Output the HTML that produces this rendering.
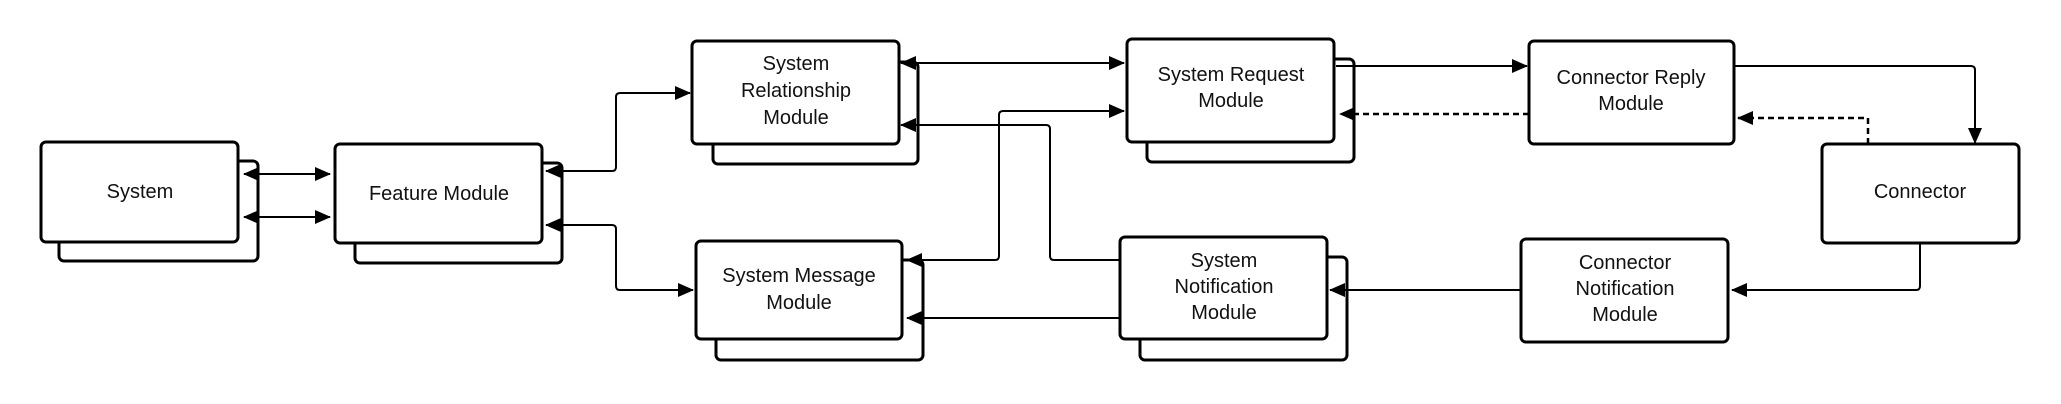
<!DOCTYPE html>
<html><head><meta charset="utf-8"><style>
html,body{margin:0;padding:0;background:#fff;}
svg{display:block;}
text{font-family:"Liberation Sans",Arial,sans-serif;font-size:20px;fill:#111;text-anchor:middle;}
.b{fill:#fff;stroke:#000;stroke-width:3;}
.l{fill:none;stroke:#000;stroke-width:2;stroke-linejoin:round;}
.d{fill:none;stroke:#000;stroke-width:2.5;stroke-dasharray:6,4;}
</style></head><body>
<svg width="2061" height="404" viewBox="0 0 2061 404" xmlns="http://www.w3.org/2000/svg">
<defs>
<marker id="a" markerWidth="16" markerHeight="14" refX="15" refY="7" orient="auto" markerUnits="userSpaceOnUse">
<path d="M0,0 L16,7 L0,14 Z" fill="#000"/></marker>
<marker id="s" markerWidth="16" markerHeight="14" refX="1" refY="7" orient="auto" markerUnits="userSpaceOnUse">
<path d="M16,0 L0,7 L16,14 Z" fill="#000"/></marker>
</defs>
<!-- boxes with shadows -->
<rect class="b" x="59" y="161" width="199" height="100" rx="5"/>
<rect class="b" x="41" y="142" width="197" height="100" rx="5"/>
<rect class="b" x="355" y="163" width="207" height="100" rx="5"/>
<rect class="b" x="335" y="144" width="207" height="99" rx="5"/>
<rect class="b" x="713" y="62" width="205" height="102" rx="5"/>
<rect class="b" x="692" y="41" width="207" height="103" rx="5"/>
<rect class="b" x="716" y="260" width="207" height="100" rx="5"/>
<rect class="b" x="696" y="241" width="206" height="98" rx="5"/>
<rect class="b" x="1147" y="59" width="207" height="103" rx="5"/>
<rect class="b" x="1127" y="39" width="207" height="103" rx="5"/>
<rect class="b" x="1529" y="41" width="205" height="103" rx="5"/>
<rect class="b" x="1822" y="144" width="197" height="99" rx="5"/>
<rect class="b" x="1140" y="257" width="207" height="103" rx="5"/>
<rect class="b" x="1120" y="237" width="207" height="102" rx="5"/>
<rect class="b" x="1521" y="239" width="207" height="103" rx="5"/>
<!-- connectors -->
<path class="l" d="M244,174 L330,174" marker-start="url(#s)" marker-end="url(#a)"/>
<path class="l" d="M244,217 L330,217" marker-start="url(#s)" marker-end="url(#a)"/>
<path class="l" d="M546,171 L612,171 Q616,171 616,167 L616,97 Q616,93 620,93 L690,93" marker-start="url(#s)" marker-end="url(#a)"/>
<path class="l" d="M546,225 L612,225 Q616,225 616,229 L616,286 Q616,290 620,290 L693,290" marker-start="url(#s)" marker-end="url(#a)"/>
<path class="l" d="M901,63 L1124,63" marker-start="url(#s)" marker-end="url(#a)"/>
<path class="l" d="M1120,260 L1054,260 Q1050,260 1050,256 L1050,129 Q1050,125 1046,125 L901,125" marker-end="url(#a)"/>
<path class="l" d="M907,260 L995,260 Q999,260 999,256 L999,115 Q999,111 1003,111 L1124,111" marker-start="url(#s)" marker-end="url(#a)"/>
<path class="l" d="M1120,318 L907,318" marker-end="url(#a)"/>
<path class="l" d="M1336,66 L1527,66" marker-end="url(#a)"/>
<path class="d" d="M1529,114 L1340,114" marker-end="url(#a)"/>
<path class="l" d="M1734,66 L1971,66 Q1975,66 1975,70 L1975,143" marker-end="url(#a)"/>
<path class="d" d="M1868,144 L1868,118 L1738,118" marker-end="url(#a)"/>
<path class="l" d="M1920,243 L1920,286 Q1920,290 1916,290 L1732,290" marker-end="url(#a)"/>
<path class="l" d="M1521,290 L1330,290" marker-end="url(#a)"/>
<!-- labels -->
<text x="140" y="198">System</text>
<text x="439" y="200">Feature Module</text>
<text x="796" y="70">System</text>
<text x="796" y="97">Relationship</text>
<text x="796" y="124">Module</text>
<text x="799" y="282">System Message</text>
<text x="799" y="309">Module</text>
<text x="1231" y="81">System Request</text>
<text x="1231" y="107">Module</text>
<text x="1631" y="84">Connector Reply</text>
<text x="1631" y="110">Module</text>
<text x="1920" y="198">Connector</text>
<text x="1224" y="267">System</text>
<text x="1224" y="293">Notification</text>
<text x="1224" y="319">Module</text>
<text x="1625" y="269">Connector</text>
<text x="1625" y="295">Notification</text>
<text x="1625" y="321">Module</text>
</svg>
</body></html>
